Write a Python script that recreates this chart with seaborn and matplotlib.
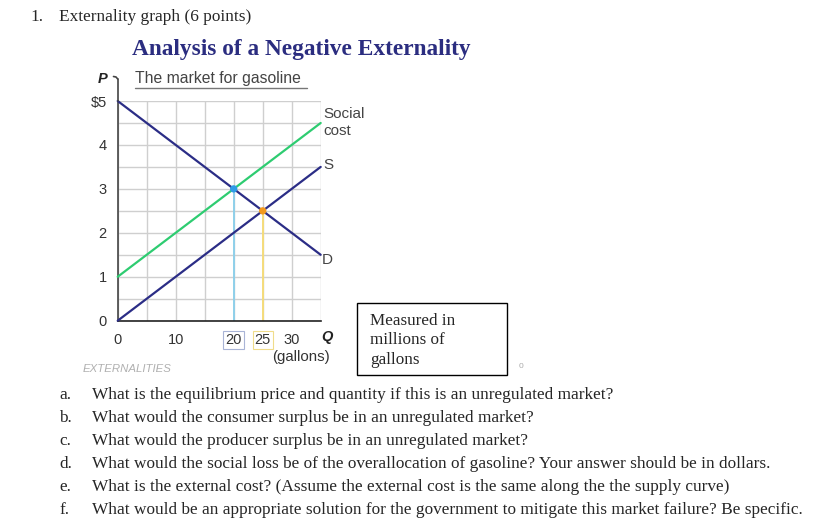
import matplotlib
matplotlib.use("Agg")
import matplotlib.pyplot as plt
import seaborn as sns
import pandas as pd
from matplotlib.lines import Line2D
from matplotlib.patches import Rectangle

# ---- data ----
quantity = [0, 35]
demand = [5.0, 1.5]
supply = [0.0, 3.5]
social_cost = [1.0, 4.5]
efficient_q, efficient_p = 20, 3.0
market_q, market_p = 25, 2.5
x_ticks = [0, 5, 10, 15, 20, 25, 30, 35]
x_labels = ["0", "", "10", "", "20", "25", "30", ""]
y_ticks = [0, 0.5, 1, 1.5, 2, 2.5, 3, 3.5, 4, 4.5, 5]
y_labels = ["0", "", "1", "", "2", "", "3", "", "4", "", "$5"]
questions = [
    ("a.", "What is the equilibrium price and quantity if this is an unregulated market?"),
    ("b.", "What would the consumer surplus be in an unregulated market?"),
    ("c.", "What would the producer surplus be in an unregulated market?"),
    ("d.", "What would the social loss be of the overallocation of gasoline? Your answer should be in dollars."),
    ("e.", "What is the external cost? (Assume the external cost is the same along the the supply curve)"),
    ("f.", "What would be an appropriate solution for the government to mitigate this market failure? Be specific."),
]

sns.set_theme(style="white")
plt.rcParams["font.family"] = ["Liberation Sans", "DejaVu Sans"]

W, H = 824, 530
fig = plt.figure(figsize=(W / 100, H / 100), dpi=100)
fig.patch.set_facecolor("white")

def fx(x):
    return x / W

def fy(y):
    return 1 - y / H

ax = fig.add_axes([fx(117.7), fy(320.7), (320.7 - 117.7) / W, (320.7 - 101) / H])

df = pd.DataFrame({
    "Q": quantity * 3,
    "P": demand + supply + social_cost,
    "curve": ["D"] * 2 + ["S"] * 2 + ["Social cost"] * 2,
})
palette = {"D": "#2b2d86", "S": "#2b2d86", "Social cost": "#2ecc71"}
sns.lineplot(data=df, x="Q", y="P", hue="curve", palette=palette, ax=ax,
             legend=False, linewidth=1.6, zorder=3, clip_on=False)

ax.plot([efficient_q, efficient_q], [0, efficient_p], color="#8fd0ea", lw=1.4, zorder=2)
ax.plot([market_q, market_q], [0, market_p], color="#f5dc7a", lw=1.4, zorder=2)
sns.scatterplot(x=[efficient_q], y=[efficient_p], color="#2f9be6", s=28, ax=ax,
                zorder=5, edgecolor="none")
sns.scatterplot(x=[market_q], y=[market_p], color="#f39a1e", s=28, ax=ax,
                zorder=5, edgecolor="none")

ax.set_xlim(0, 35)
ax.set_ylim(0, 5)
ax.set_xticks(x_ticks)
ax.set_xticklabels(x_labels)
ax.set_yticks(y_ticks)
ax.set_yticklabels(y_labels)
ax.set_xlabel("")
ax.set_ylabel("")
ax.grid(True, color="#cfcfcf", lw=1)
ax.set_axisbelow(True)
for s in ["top", "right"]:
    ax.spines[s].set_visible(False)
ax.spines["left"].set_color("#444444")
ax.spines["bottom"].set_color("#222222")
ax.spines["left"].set_linewidth(1.2)
ax.spines["bottom"].set_linewidth(1.2)
ax.tick_params(axis="both", which="major", direction="out", length=4, width=1,
               color="#333333", labelsize=10.5, labelcolor="#333333")
ax.tick_params(axis="x", pad=5)
ax.tick_params(axis="y", pad=4)
for lab in ax.get_xticklabels():
    if lab.get_text() == "20":
        lab.set_bbox(dict(facecolor="white", edgecolor="#a9b4d6", lw=0.8, pad=1.5))
    if lab.get_text() == "25":
        lab.set_bbox(dict(facecolor="white", edgecolor="#f0dc8a", lw=0.8, pad=1.5))

# extended y axis with hook
fig.add_artist(Line2D([fx(117.7), fx(117.7)], [fy(101), fy(79)], color="#444444", lw=1.2))
fig.add_artist(Line2D([fx(117.7), fx(116), fx(113.5)], [fy(79), fy(77), fy(76.5)],
                      color="#444444", lw=1.2))

# header text
fig.text(fx(30), fy(17), "1.", family="Liberation Serif", fontsize=12.4, va="center")
fig.text(fx(59), fy(17), "Externality graph (6 points)", family="Liberation Serif",
         fontsize=12.4, va="center")
fig.text(fx(301), fy(50), "Analysis of a Negative Externality", family="Liberation Serif",
         fontsize=16.8, fontweight="bold", color="#2b2d80", ha="center", va="center")

# chart annotations
fig.text(fx(103), fy(79), "P", fontsize=10.5, fontweight="bold", style="italic",
         ha="center", va="center", color="#222222")
fig.text(fx(135), fy(79), "The market for gasoline", fontsize=11.3, color="#444444",
         va="center")
fig.add_artist(Line2D([fx(135), fx(307)], [fy(88), fy(88)], color="#777777", lw=1))
fig.text(fx(323), fy(114), "Social", fontsize=11, color="#444444", va="center")
fig.text(fx(323), fy(131), "cost", fontsize=11, color="#444444", va="center")
fig.text(fx(323), fy(165), "S", fontsize=11, color="#444444", va="center")
fig.text(fx(322), fy(260), "D", fontsize=11, color="#444444", va="center")
fig.text(fx(327), fy(337), "Q", fontsize=10.5, fontweight="bold", style="italic",
         ha="center", va="center", color="#222222")
fig.text(fx(301), fy(357), "(gallons)", fontsize=10.8, color="#333333",
         ha="center", va="center")
fig.text(fx(83), fy(369), "EXTERNALITIES", fontsize=8.2, style="italic",
         color="#b0b0b0", va="center")

# box note
fig.add_artist(Rectangle((fx(357), fy(375)), (507 - 357) / W, (375 - 303) / H,
                         transform=fig.transFigure, fill=False, edgecolor="black", lw=1))
for i, line in enumerate(["Measured in", "millions of", "gallons"]):
    fig.text(fx(370), fy(321 + 19.5 * i), line, family="Liberation Serif", fontsize=12.3,
             va="center")
fig.text(fx(521), fy(366), "0", fontsize=6, color="#aaaaaa", ha="center", va="center")

# questions
for i, (letter, q) in enumerate(questions):
    y = 395 + 23 * i
    fig.text(fx(59), fy(y), letter, family="Liberation Serif", fontsize=12.45, va="center")
    fig.text(fx(92), fy(y), q, family="Liberation Serif", fontsize=12.45, va="center")

fig.savefig("out.png", dpi=100, facecolor="white")
